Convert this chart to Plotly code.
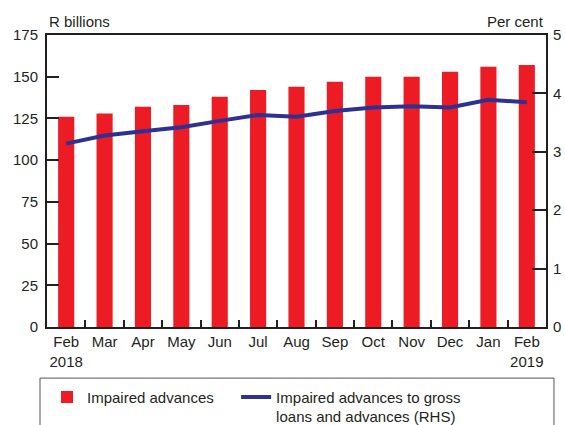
import plotly.graph_objects as go

months = ["Feb 2018", "Mar", "Apr", "May", "Jun", "Jul", "Aug", "Sep", "Oct", "Nov", "Dec", "Jan", "Feb 2019"]
tick_text = ["Feb<br>2018", "Mar", "Apr", "May", "Jun", "Jul", "Aug", "Sep", "Oct", "Nov", "Dec", "Jan", "Feb<br>2019"]
impaired_advances = [126, 128, 132, 133, 138, 142, 144, 147, 150, 150, 153, 156, 157]
impaired_ratio = [3.14, 3.28, 3.35, 3.42, 3.53, 3.63, 3.60, 3.70, 3.76, 3.78, 3.76, 3.89, 3.85]

INK = "#231f20"
RED = "#ed1c24"
BLUE = "#2e3192"
FONT = "Liberation Sans, Arial, sans-serif"
FS = 15

fig = go.Figure()
fig.add_trace(go.Bar(
    x=months, y=impaired_advances, name="Impaired advances", legend="legend",
    marker=dict(color=RED, line=dict(width=0)), width=0.42,
))
fig.add_trace(go.Scatter(
    x=months, y=impaired_ratio, yaxis="y2", mode="lines", legend="legend2",
    name="Impaired advances to gross<br>loans and advances (RHS)",
    line=dict(color=BLUE, width=4),
))

legend_common = dict(
    orientation="v", xref="paper", xanchor="left",
    yref="container", y=0.104, yanchor="top",
    font=dict(size=FS, color=INK), bgcolor="rgba(0,0,0,0)", valign="top",
)

fig.update_layout(
    width=565, height=425,
    margin=dict(l=47, r=19, t=35, b=98, autoexpand=False),
    paper_bgcolor="white", plot_bgcolor="white",
    font=dict(family=FONT, size=FS, color=INK),
    showlegend=True,
    legend=dict(x=0.0, **legend_common),
    legend2=dict(x=0.379, **legend_common),
    xaxis=dict(
        type="category", tickmode="array", tickvals=months, ticktext=tick_text,
        showline=True, linecolor=INK, linewidth=2, mirror=True,
        ticks="inside", tickson="boundaries", ticklen=7, tickwidth=2, tickcolor=INK,
        showgrid=False, zeroline=False, fixedrange=True, tickangle=0, automargin=False,
        tickfont=dict(size=FS, color=INK),
    ),
    yaxis=dict(
        range=[0, 175], dtick=25, tick0=0,
        showline=True, linecolor=INK, linewidth=2,
        ticks="inside", ticklen=12, tickwidth=2, tickcolor=INK,
        showgrid=False, zeroline=False, ticklabelstandoff=4, automargin=False,
        tickfont=dict(size=FS, color=INK),
    ),
    yaxis2=dict(
        range=[0, 5], dtick=1, tick0=0, overlaying="y", side="right",
        showline=True, linecolor=INK, linewidth=2,
        ticks="inside", ticklen=14, tickwidth=2, tickcolor=INK,
        showgrid=False, zeroline=False, ticklabelstandoff=2, automargin=False,
        tickfont=dict(size=FS, color=INK),
    ),
    annotations=[
        dict(text="R billions", xref="paper", yref="paper", x=0.0, y=1.0, xanchor="left",
             yanchor="bottom", yshift=3, showarrow=False, font=dict(size=FS, color=INK)),
        dict(text="Per cent", xref="paper", yref="paper", x=1.0, y=1.0, xanchor="right",
             yanchor="bottom", yshift=3, showarrow=False, font=dict(size=FS, color=INK)),
    ],
    shapes=[
        dict(type="rect", xref="paper", yref="paper", x0=-0.014, x1=1.016, y0=-0.175, y1=-0.45,
             line=dict(color="#555555", width=1), fillcolor="rgba(0,0,0,0)", layer="below"),
    ],
)

fig.write_html("out.html")
